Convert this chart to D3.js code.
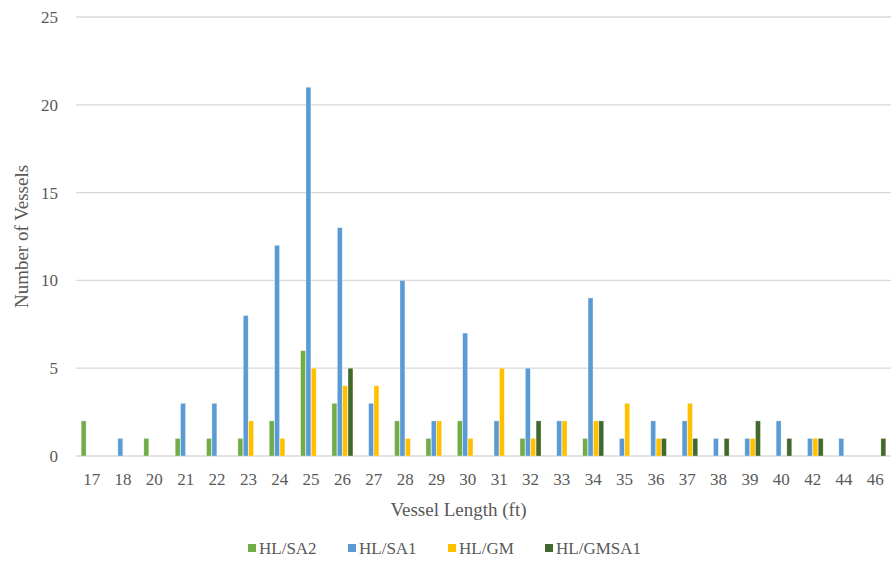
<!DOCTYPE html>
<html>
<head>
<meta charset="utf-8">
<script src="https://cdn.jsdelivr.net/npm/d3@7/dist/d3.min.js"></script>
</head>
<body style="margin:0;background:#fff">
<svg id="chart" width="891" height="575" font-family="Liberation Serif"></svg>
<script>
// Vessel length categories (ft)
const lengths = ["17","18","20","21","22","23","24","25","26","27","28","29","30","31","32","33","34","35","36","37","38","39","40","42","44","46"];

// Number of vessels per length, by gear/area group
const hlSA2   = [2,0,1,1,1,1,2,6,3,0,2,1,2,0,1,0,1,0,0,0,0,0,0,0,0,0];
const hlSA1   = [0,1,0,3,3,8,12,21,13,3,10,2,7,2,5,2,9,1,2,2,1,1,2,1,1,0];
const hlGM    = [0,0,0,0,0,2,1,5,4,4,1,2,1,5,1,2,2,3,1,3,0,1,0,1,0,0];
const hlGMSA1 = [0,0,0,0,0,0,0,0,5,0,0,0,0,0,2,0,2,0,1,1,1,2,1,1,0,1];

const seriesNames = ["HL/SA2", "HL/SA1", "HL/GM", "HL/GMSA1"];
const seriesColors = ["#70AD47", "#5B9BD5", "#FFC000", "#43682B"];
const yTicks = [0, 5, 10, 15, 20, 25];

const series = [hlSA2, hlSA1, hlGM, hlGMSA1].map((vals, i) => ({
  name: seriesNames[i], color: seriesColors[i], values: vals
}));

const FONT = "Times New Roman";
const textColor = "#595959";

// Apply the serif face to a text selection both as attribute and inline style
function serif(sel, size) {
  sel.attr("font-family", FONT).attr("font-size", size)
     .style("font-family", `"${FONT}"`).style("font-size", size + "px");
}

const svg = d3.select("#chart");
const margin = { left: 76, right: 0, top: 17, bottom: 119 };
const W = 891, H = 575;
const plotW = W - margin.left - margin.right;
const plotH = H - margin.top - margin.bottom;

const g = svg.append("g").attr("transform", `translate(${margin.left},${margin.top})`);

const x0 = d3.scaleBand().domain(lengths).range([0, plotW]).paddingInner(0.33).paddingOuter(0.165);
const x1 = d3.scaleBand().domain(seriesNames).range([0, x0.bandwidth()]).paddingInner(0.08);
const y = d3.scaleLinear().domain([0, 25]).range([plotH, 0]);

// Horizontal gridlines
g.append("g")
  .selectAll("line")
  .data(yTicks)
  .join("line")
  .attr("x1", 0).attr("x2", plotW)
  .attr("y1", d => y(d)).attr("y2", d => y(d))
  .attr("stroke", "#d9d9d9").attr("stroke-width", 1.3);

// Y axis tick labels
const yAxis = d3.axisLeft(y).tickValues(yTicks).tickSize(0).tickPadding(18);
const yG = g.append("g").call(yAxis).attr("font-family", FONT);
yG.select(".domain").remove();
yG.selectAll("text").call(serif, 17).attr("fill", textColor);

// X axis tick labels
const xAxis = d3.axisBottom(x0).tickSize(0).tickPadding(17);
const xG = g.append("g").attr("transform", `translate(0,${plotH})`).call(xAxis).attr("font-family", FONT);
xG.select(".domain").remove();
xG.selectAll("text").call(serif, 17).attr("fill", textColor);

// Clustered bars
const groups = g.append("g")
  .selectAll("g")
  .data(lengths)
  .join("g")
  .attr("transform", d => `translate(${x0(d)},0)`);

groups.selectAll("rect")
  .data((d, i) => series.map(s => ({ name: s.name, color: s.color, value: s.values[i] })))
  .join("rect")
  .filter(d => d.value > 0)
  .attr("x", d => x1(d.name))
  .attr("width", x1.bandwidth())
  .attr("y", d => y(d.value))
  .attr("height", d => y(0) - y(d.value))
  .attr("fill", d => d.color)
  .attr("stroke", "#ffffff").attr("stroke-opacity", 0.5).attr("stroke-width", 0.6);

// Axis titles
svg.append("text")
  .attr("x", margin.left + plotW / 2 - 25).attr("y", 516)
  .attr("text-anchor", "middle")
  .call(serif, 19).attr("fill", textColor)
  .text("Vessel Length (ft)");

svg.append("text")
  .attr("transform", `translate(28,${margin.top + plotH / 2}) rotate(-90)`)
  .attr("text-anchor", "middle")
  .call(serif, 19).attr("fill", textColor)
  .text("Number of Vessels");

// Legend
const legendX = [248, 348, 448, 545];
const legend = svg.append("g").selectAll("g")
  .data(series)
  .join("g")
  .attr("transform", (d, i) => `translate(${legendX[i]},548)`);
legend.append("rect")
  .attr("x", 0).attr("y", -4).attr("width", 8).attr("height", 8)
  .attr("fill", d => d.color);
legend.append("text")
  .attr("x", 11).attr("y", 6)
  .call(serif, 17).attr("fill", textColor)
  .text(d => d.name);
</script>
</body>
</html>
